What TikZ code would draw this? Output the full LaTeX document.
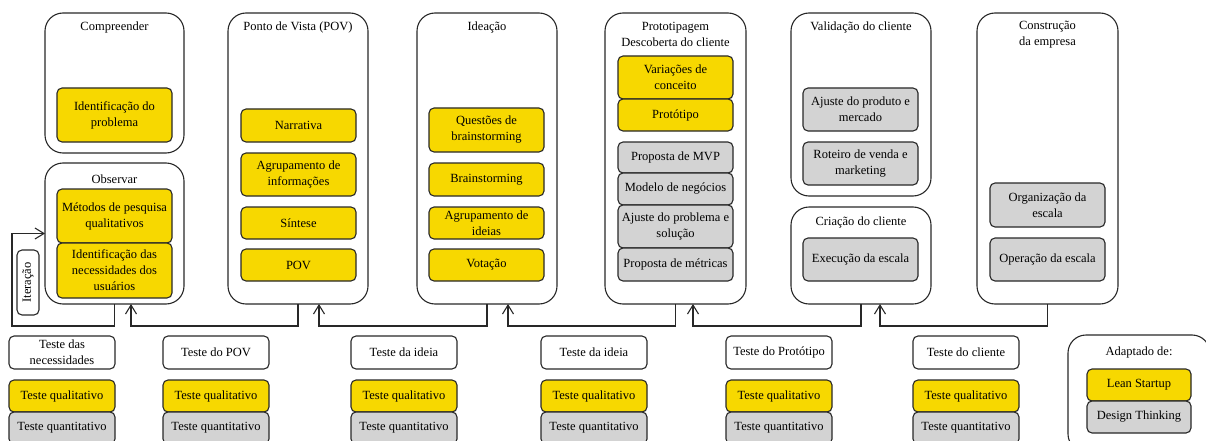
\documentclass[tikz,border=0pt]{standalone}
\usepackage{fontspec}
\setmainfont{Liberation Serif}
\newfontfamily\labelserif{Liberation Serif}
\usetikzlibrary{arrows.meta}

\definecolor{leanyellow}{RGB}{247,216,0}
\definecolor{dtgray}{RGB}{211,211,211}
\definecolor{edge}{RGB}{40,40,40}

\tikzset{
  txt/.style={font=\labelserif\fontsize{12.5}{16}\selectfont},
  phase/.style={draw=edge, line width=1.1pt, rounded corners=18pt, fill=white, outer sep=0pt},
  item/.style={txt, draw=edge, line width=1.1pt, rounded corners=5pt, align=center, inner sep=1pt, outer sep=0pt},
  lean/.style={item, fill=leanyellow},
  dt/.style={item, fill=dtgray},
  plain/.style={item, fill=white},
  title/.style={txt, align=center, inner sep=0pt},
  flow/.style={draw=edge, line width=1.1pt, -{Straight Barb[length=9pt,width=11pt]}},
}

% box given by its corners: style, name, x1, y1, x2, y2, text
\newcommand\rbox[7]{%
  \node[#1, minimum width={(#5-#3)*1pt}, minimum height={(#6-#4)*1pt}]
    (#2) at ({(#3+#5)/2},{(#4+#6)/2}) {#7};}

\begin{document}
\begin{tikzpicture}[x=1pt,y=-1pt]
\useasboundingbox (0,0) rectangle (1206,441);

% phases
\rbox{phase}{comp}{45}{13}{184}{153}{}
\rbox{phase}{obs}{45}{163}{184}{304}{}
\rbox{phase}{pov}{228}{13}{368}{304}{}
\rbox{phase}{idea}{417}{13}{557}{304}{}
\rbox{phase}{proto}{605}{13}{746}{304}{}
\rbox{phase}{valid}{791}{13}{931}{196}{}
\rbox{phase}{criac}{791}{207}{931}{304}{}
\rbox{phase}{constr}{977}{13}{1118}{304}{}

% phase titles
\node[title] (tcomp) at (114.5,27) {Compreender};
\node[title] (tobs) at (114.5,179) {Observar};
\node[title] (tpov) at (298,27) {Ponto de Vista (POV)};
\node[title] (tidea) at (487,27) {Ideação};
\node[title] (tproto) at (675.5,34.5) {Prototipagem\\Descoberta do cliente};
\node[title] (tvalid) at (861,27) {Validação do cliente};
\node[title] (tcriac) at (861,222) {Criação do cliente};
\node[title] (tconstr) at (1047.5,34.5) {Construção\\da empresa};

% activities
\rbox{lean}{idprob}{57}{88}{172}{142}{Identificação do\\problema}
\rbox{lean}{metodos}{57}{189}{172}{243}{Métodos de pesquisa\\qualitativos}
\rbox{lean}{idnec}{57}{243}{172}{298}{Identificação das\\necessidades dos\\usuários}

\rbox{lean}{narr}{241}{109}{356}{142}{Narrativa}
\rbox{lean}{agrinf}{241}{153}{356}{196}{Agrupamento de\\informações}
\rbox{lean}{sint}{241}{207}{356}{239}{Síntese}
\rbox{lean}{povi}{241}{249}{356}{281}{POV}

\rbox{lean}{quest}{429}{108}{544}{152}{Questões de\\brainstorming}
\rbox{lean}{brain}{429}{163}{544}{196}{Brainstorming}
\rbox{lean}{agrid}{429}{207}{544}{239}{Agrupamento de\\ideias}
\rbox{lean}{vot}{429}{249}{544}{281}{Votação}

\rbox{lean}{var}{618}{56}{733}{99}{Variações de\\conceito}
\rbox{lean}{prot}{618}{99}{733}{131}{Protótipo}
\rbox{dt}{mvp}{618}{142}{733}{173}{Proposta de MVP}
\rbox{dt}{modelo}{618}{173}{733}{205}{Modelo de negócios}
\rbox{dt}{ajprob}{618}{205}{733}{248}{Ajuste do problema e\\solução}
\rbox{dt}{metr}{618}{248}{733}{281}{Proposta de métricas}

\rbox{dt}{ajprod}{803}{88}{918}{131}{Ajuste do produto e\\mercado}
\rbox{dt}{roteiro}{803}{142}{918}{185}{Roteiro de venda e\\marketing}
\rbox{dt}{exec}{803}{238}{918}{281}{Execução da escala}

\rbox{dt}{org}{990}{183}{1105}{227}{Organização da\\escala}
\rbox{dt}{oper}{990}{238}{1105}{281}{Operação da escala}

% iteration loop
\node[item, fill=white, rotate=90, minimum width=65pt, minimum height=22pt] (iter) at (28,282.5) {Iteração};
\coordinate (loopcorner) at (12,326);
\draw[flow] (obs.south) |- (loopcorner) |- (obs.west);

% feedback connectors
\draw[flow] (pov.south) -- ++(0,22) -| ([xshift=16.5pt]obs.south);
\draw[flow] (idea.south) -- ++(0,22) -| ([xshift=21pt]pov.south);
\draw[flow] (proto.south) -- ++(0,22) -| ([xshift=21pt]idea.south);
\draw[flow] (criac.south) -- ++(0,22) -| ([xshift=17.5pt]proto.south);
\draw[flow] (constr.south) -- ++(0,22) -| ([xshift=19pt]criac.south);

% tests
\rbox{plain}{h1}{9}{336}{115}{369}{Teste das\\necessidades}
\rbox{lean}{ql1}{9}{380}{115}{412}{Teste qualitativo}
\rbox{dt}{qn1}{9}{412}{115}{444}{Teste quantitativo}

\rbox{plain}{h2}{163}{336}{269}{369}{Teste do POV}
\rbox{lean}{ql2}{163}{380}{269}{412}{Teste qualitativo}
\rbox{dt}{qn2}{163}{412}{269}{444}{Teste quantitativo}

\rbox{plain}{h3}{351}{336}{457}{369}{Teste da ideia}
\rbox{lean}{ql3}{351}{380}{457}{412}{Teste qualitativo}
\rbox{dt}{qn3}{351}{412}{457}{444}{Teste quantitativo}

\rbox{plain}{h4}{541}{336}{647}{369}{Teste da ideia}
\rbox{lean}{ql4}{541}{380}{647}{412}{Teste qualitativo}
\rbox{dt}{qn4}{541}{412}{647}{444}{Teste quantitativo}

\rbox{plain}{h5}{726}{336}{832}{369}{Teste do Protótipo}
\rbox{lean}{ql5}{726}{380}{832}{412}{Teste qualitativo}
\rbox{dt}{qn5}{726}{412}{832}{444}{Teste quantitativo}

\rbox{plain}{h6}{913}{336}{1019}{369}{Teste do cliente}
\rbox{lean}{ql6}{913}{380}{1019}{412}{Teste qualitativo}
\rbox{dt}{qn6}{913}{412}{1019}{444}{Teste quantitativo}

% legend
\rbox{phase}{legend}{1068}{335}{1210}{452}{}
\node[title] (tlegend) at (1139,352) {Adaptado de:};
\rbox{lean}{leglean}{1087}{369}{1191}{401}{Lean Startup}
\rbox{dt}{legdt}{1087}{401}{1191}{433}{Design Thinking}
\end{tikzpicture}
\end{document}
